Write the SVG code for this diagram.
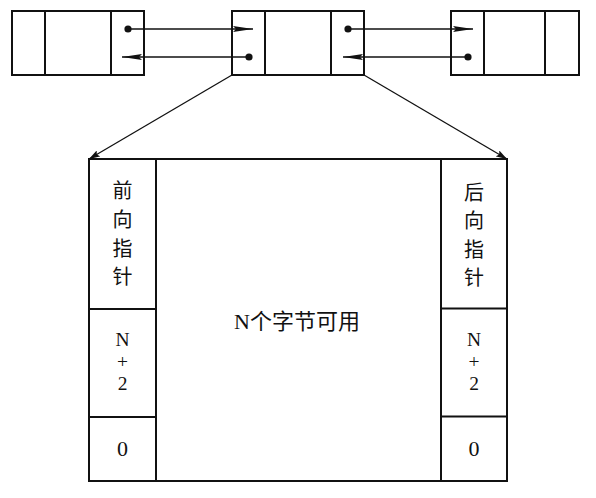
<svg xmlns="http://www.w3.org/2000/svg" width="596" height="498" viewBox="0 0 596 498">
<style>
.box{fill:none;stroke:#111;stroke-width:2}
.ln{stroke:#111;stroke-width:1.3;fill:none}
.dot{fill:#111}
.t{font-family:"Liberation Serif","Noto Sans CJK SC",serif;font-size:22px;fill:#111;text-anchor:middle}
.s{font-family:"Liberation Serif",serif;font-size:19.5px;fill:#111;text-anchor:middle}
.c{font-family:"Noto Sans CJK SC","Liberation Serif",sans-serif;font-size:20px;fill:#111;text-anchor:middle}
</style>
<defs>
<marker id="ah" viewBox="0 0 20 6" refX="20" refY="3" markerWidth="20" markerHeight="6" orient="auto" markerUnits="userSpaceOnUse">
<path d="M0,0 L20,3 L0,6 L3,3 Z" fill="#111"/>
</marker>
<marker id="ah2" viewBox="0 0 11 7" refX="11" refY="3.5" markerWidth="11" markerHeight="7" orient="auto" markerUnits="userSpaceOnUse">
<path d="M0,0 L11,3.5 L0,7 L2,3.5 Z" fill="#111"/>
</marker>
</defs>
<rect width="596" height="498" fill="#fff"/>
<g id="node-left">
<rect class="box" x="12" y="11" width="132" height="64"/>
<line class="box" x1="45" y1="11" x2="45" y2="75"/>
<line class="box" x1="111" y1="11" x2="111" y2="75"/>
<circle class="dot" cx="128" cy="29" r="3.6"/>
</g>
<g id="node-middle">
<rect class="box" x="232" y="11" width="132" height="64"/>
<line class="box" x1="265" y1="11" x2="265" y2="75"/>
<line class="box" x1="331" y1="11" x2="331" y2="75"/>
<circle class="dot" cx="249" cy="57" r="3.6"/>
<circle class="dot" cx="348" cy="29" r="3.6"/>
</g>
<g id="node-right">
<rect class="box" x="451" y="11" width="128" height="64"/>
<line class="box" x1="484" y1="11" x2="484" y2="75"/>
<line class="box" x1="545" y1="11" x2="545" y2="75"/>
<circle class="dot" cx="468" cy="57" r="3.6"/>
</g>
<g id="node-block">
<rect class="box" x="89" y="159" width="418" height="322"/>
<line class="box" x1="156" y1="159" x2="156" y2="481"/>
<line class="box" x1="441" y1="159" x2="441" y2="481"/>
<line class="box" x1="89" y1="309" x2="156" y2="309"/>
<line class="box" x1="89" y1="417" x2="156" y2="417"/>
<line class="box" x1="441" y1="308.5" x2="507" y2="308.5"/>
<line class="box" x1="441" y1="416.5" x2="507" y2="416.5"/>
<text class="c" x="122.5" y="198">前</text>
<text class="c" x="122.5" y="227">向</text>
<text class="c" x="122.5" y="256">指</text>
<text class="c" x="122.5" y="284">针</text>
<text class="c" x="474" y="200">后</text>
<text class="c" x="474" y="228">向</text>
<text class="c" x="474" y="257">指</text>
<text class="c" x="474" y="285">针</text>
<text class="s" x="122.5" y="346">N</text>
<text class="s" x="122.5" y="368">+</text>
<text class="s" x="122.5" y="390">2</text>
<text class="t" x="122.5" y="456">0</text>
<text class="s" x="474" y="346">N</text>
<text class="s" x="474" y="368">+</text>
<text class="s" x="474" y="390">2</text>
<text class="t" x="474" y="456">0</text>
<text class="t" x="297" y="329">N个字节可用</text>
</g>
<g id="connectors">
<line class="ln" x1="128" y1="29" x2="253" y2="29" marker-end="url(#ah)"/>
<line class="ln" x1="249" y1="57" x2="122" y2="57" marker-end="url(#ah)"/>
<line class="ln" x1="348" y1="29" x2="473" y2="29" marker-end="url(#ah)"/>
<line class="ln" x1="468" y1="57" x2="343" y2="57" marker-end="url(#ah)"/>
<line class="ln" x1="232" y1="75" x2="89" y2="159" marker-end="url(#ah2)"/>
<line class="ln" x1="364" y1="75" x2="507" y2="159" marker-end="url(#ah2)"/>
</g>
</svg>
